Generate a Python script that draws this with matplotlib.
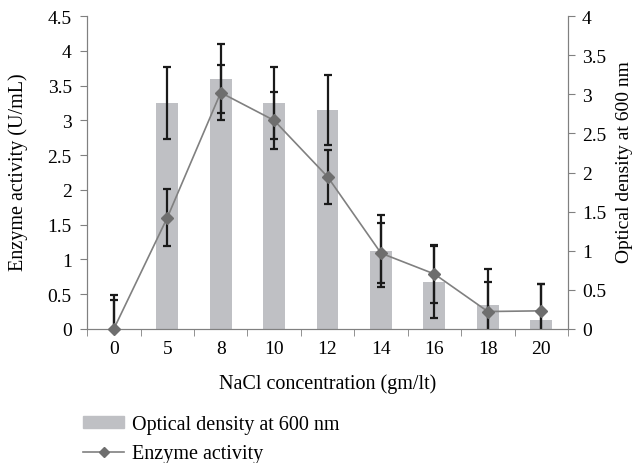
import numpy as np
import matplotlib
matplotlib.use('Agg')
import matplotlib.pyplot as plt
from matplotlib.lines import Line2D
from matplotlib.patches import Patch

# data
nacl = ['0', '5', '8', '10', '12', '14', '16', '18', '20']
od600 = [0.0, 2.89, 3.2, 2.89, 2.8, 1.0, 0.6, 0.3, 0.12]          # right axis
od600_err = [0.44, 0.46, 0.44, 0.46, 0.45, 0.46, 0.46, 0.46, 0.46]
enzyme = [0.0, 1.6, 3.4, 3.0, 2.19, 1.09, 0.79, 0.25, 0.26]       # left axis
enzyme_err = [0.42, 0.41, 0.4, 0.41, 0.39, 0.43, 0.42, 0.43, 0.39]

plt.rcParams.update({'font.family': 'Liberation Serif', 'font.size': 14})

fig = plt.figure(figsize=(6.36, 4.64), dpi=100)
ax = fig.add_axes([0.137, 0.289, 0.756, 0.674])
ax2 = ax.twinx()
ax.set_zorder(ax2.get_zorder() + 1)
ax.patch.set_visible(False)

x = np.arange(len(nacl))
grey = '#808080'
bar_c = '#bfc0c4'

ax2.bar(x, od600, width=0.41, color=bar_c, zorder=1)
ax2.errorbar(x, od600, yerr=od600_err, fmt='none', ecolor='#1a1a1a',
             elinewidth=1.6, capsize=3, capthick=1.6, zorder=2)

ax.errorbar(x, enzyme, yerr=enzyme_err, fmt='none', ecolor='#1a1a1a',
            elinewidth=1.6, capsize=3, capthick=1.6, zorder=2)
ax.plot(x, enzyme, color=grey, lw=1.2, marker='D', ms=6.5,
        mfc='#6e6e6e', mec='#6e6e6e', zorder=3, clip_on=False)

ax.set_xlim(-0.5, len(nacl) - 0.5)
ax.set_ylim(0, 4.5)
ax2.set_ylim(0, 4)
ax.set_yticks(np.arange(0, 4.51, 0.5))
ax.set_yticklabels(['0', '0.5', '1', '1.5', '2', '2.5', '3', '3.5', '4', '4.5'])
ax2.set_yticks(np.arange(0, 4.01, 0.5))
ax2.set_yticklabels(['0', '0.5', '1', '1.5', '2', '2.5', '3', '3.5', '4'])

ax.set_xticks(x)
ax.set_xticklabels(nacl)
ax.set_xticks(np.arange(-0.5, len(nacl), 1), minor=True)
ax.tick_params(axis='x', which='major', length=0, pad=8)
ax.tick_params(axis='x', which='minor', length=5, direction='out', color=grey)
ax.tick_params(axis='y', length=5, direction='out', color=grey, pad=6)
ax2.tick_params(axis='y', length=5, direction='out', color=grey, pad=5)

for a in (ax, ax2):
    a.spines['top'].set_visible(False)
    for s in ('left', 'right', 'bottom'):
        a.spines[s].set_color(grey)

ax.set_xlabel('NaCl concentration (gm/lt)', fontsize=14.5)
ax.xaxis.set_label_coords(0.5, -44 / 313)
ax.set_ylabel('Enzyme activity (U/mL)', fontsize=14.5)
ax.yaxis.set_label_coords(-59 / 481, (330 - 172) / 313)
ax2.set_ylabel('Optical density at 600 nm', fontsize=14)
ax2.yaxis.set_label_coords(1 + 48 / 481, (330 - 162) / 313)

handles = [Patch(color=bar_c),
           Line2D([], [], color=grey, lw=1.2, marker='D', ms=5,
                  mfc='#6e6e6e', mec='#6e6e6e')]
fig.legend(handles, ['Optical density at 600 nm', 'Enzyme activity'],
           loc='center left', bbox_to_anchor=(83 / 636, 1 - 440 / 464),
           frameon=False, borderpad=0, borderaxespad=0, handlelength=2.05,
           handleheight=0.5, labelspacing=0.5, handletextpad=0.4,
           fontsize=14.5)

fig.savefig('out.png', dpi=100)
